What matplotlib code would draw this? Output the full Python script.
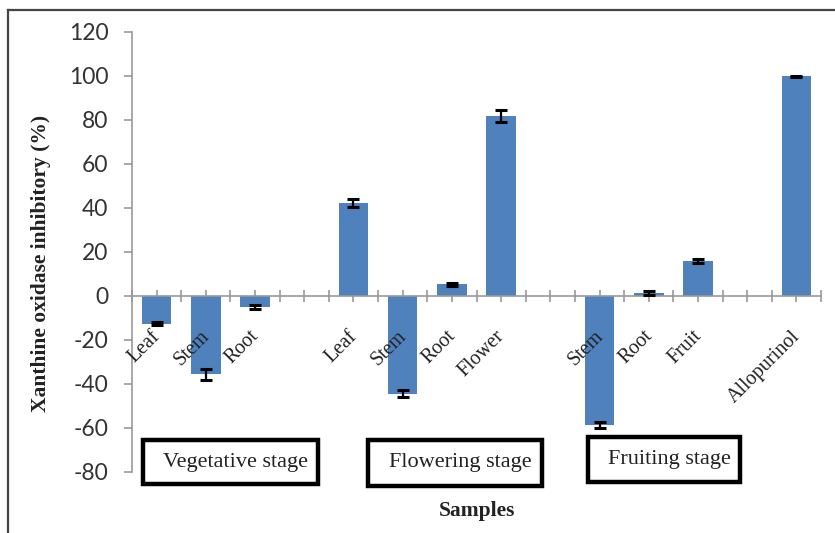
#!/usr/bin/env python3
"""Xanthine oxidase inhibition by plant part and growth stage (bar chart with error bars)."""
import matplotlib.pyplot as plt
from matplotlib.patches import Rectangle

W, H = 835, 533

# blank categories ("") are the gaps between stages
CATEGORIES = ["Leaf", "Stem", "Root", "",
              "Leaf", "Stem", "Root", "Flower", "",
              "Stem", "Root", "Fruit", "",
              "Allopurinol"]
VALUES = [-12.6, -35.5, -5.0, None,
          42.3, -44.4, 5.3, 81.8, None,
          -58.6, 1.5, 15.9, None,
          99.8]
ERRORS = [0.8, 2.5, 0.8, None,
          2.0, 1.5, 0.6, 2.8, None,
          1.5, 0.9, 1.0, None,
          0.3]
STAGES = ["Vegetative stage", "Flowering stage", "Fruiting stage"]

BAR_COLOR = "#4f81bd"
AXIS_GREY = "#9a9a9a"
SERIF = ["Liberation Serif", "DejaVu Serif"]
SANS = ["Lato", "DejaVu Sans"]

plt.rcParams["axes.unicode_minus"] = False


def px_box(x0, y0, x1, y1):
    """Pixel box (from top-left) -> figure fraction (left, bottom, width, height)."""
    return x0 / W, 1 - y1 / H, (x1 - x0) / W, (y1 - y0) / H


def main():
    fig = plt.figure(figsize=(W / 100, H / 100), dpi=100)
    ax = fig.add_axes(px_box(132, 32, 821, 472))

    xs = [i for i, v in enumerate(VALUES) if v is not None]
    vals = [VALUES[i] for i in xs]
    errs = [ERRORS[i] for i in xs]
    ax.bar(xs, vals, width=0.6, color=BAR_COLOR, zorder=2)
    ax.errorbar(xs, vals, yerr=errs, fmt="none", ecolor="black",
                elinewidth=1.6, capsize=4.3, capthick=2.2, zorder=3)

    ax.set_xlim(-0.5, len(CATEGORIES) - 0.5)
    ax.set_ylim(-80, 120)
    ax.set_yticks(range(-80, 121, 20))

    for side in ("top", "right"):
        ax.spines[side].set_visible(False)
    ax.spines["left"].set_color(AXIS_GREY)
    ax.spines["bottom"].set_color(AXIS_GREY)
    ax.spines["bottom"].set_position(("data", 0))
    ax.spines["left"].set_linewidth(1.2)
    ax.spines["bottom"].set_linewidth(1.2)

    # ticks at every category boundary and centre, crossing the zero line
    ax.set_xticks([i * 0.5 - 0.5 for i in range(2 * len(CATEGORIES) + 1)])
    ax.set_xticklabels([])
    ax.tick_params(axis="x", direction="inout", length=9, width=1.2,
                   color=AXIS_GREY)
    ax.tick_params(axis="y", direction="out", length=6, width=1.2,
                   color=AXIS_GREY, labelsize=16.5, labelcolor="#333333", pad=11)
    for lab in ax.get_yticklabels():
        lab.set_family(SANS)

    for i, name in enumerate(CATEGORIES):
        if name:
            ax.text(i - 0.12, -14, name, rotation=45, ha="right", va="top",
                    rotation_mode="anchor", fontsize=14.5, family=SERIF,
                    color="#222222", zorder=4)

    ax.set_ylabel("Xanthine oxidase inhibitory (%)", family=SERIF,
                  fontsize=15.5, fontweight="bold", color="#222222")
    ax.yaxis.set_label_coords(-0.118, 0.475)

    # stage boxes below the plot
    boxes = [(143, 440, 318, 484), (368, 440, 542, 486), (588, 437, 740, 482)]
    for label, (x0, y0, x1, y1) in zip(STAGES, boxes):
        l, b, w, h = px_box(x0, y0, x1, y1)
        fig.add_artist(Rectangle((l, b), w, h, transform=fig.transFigure,
                                 fill=False, edgecolor="black", linewidth=3.2))
        fig.text(l + w / 2 + 0.006, b + h / 2, label, ha="center", va="center",
                 fontsize=16, family=SERIF, color="#222222")

    fig.text(477 / W, 1 - 511 / H, "Samples", ha="center", va="center",
             fontsize=15.5, fontweight="bold", family=SERIF, color="#222222")

    # partial frame around the figure (top and left edges)
    fig.add_artist(plt.Line2D([8 / W, 1], [1 - 10 / H, 1 - 10 / H],
                              transform=fig.transFigure, color="#444444", lw=1.6))
    fig.add_artist(plt.Line2D([8 / W, 8 / W], [0, 1 - 10 / H],
                              transform=fig.transFigure, color="#444444", lw=1.6))

    fig.savefig("out.png", dpi=100)
    plt.close(fig)


if __name__ == "__main__":
    main()
